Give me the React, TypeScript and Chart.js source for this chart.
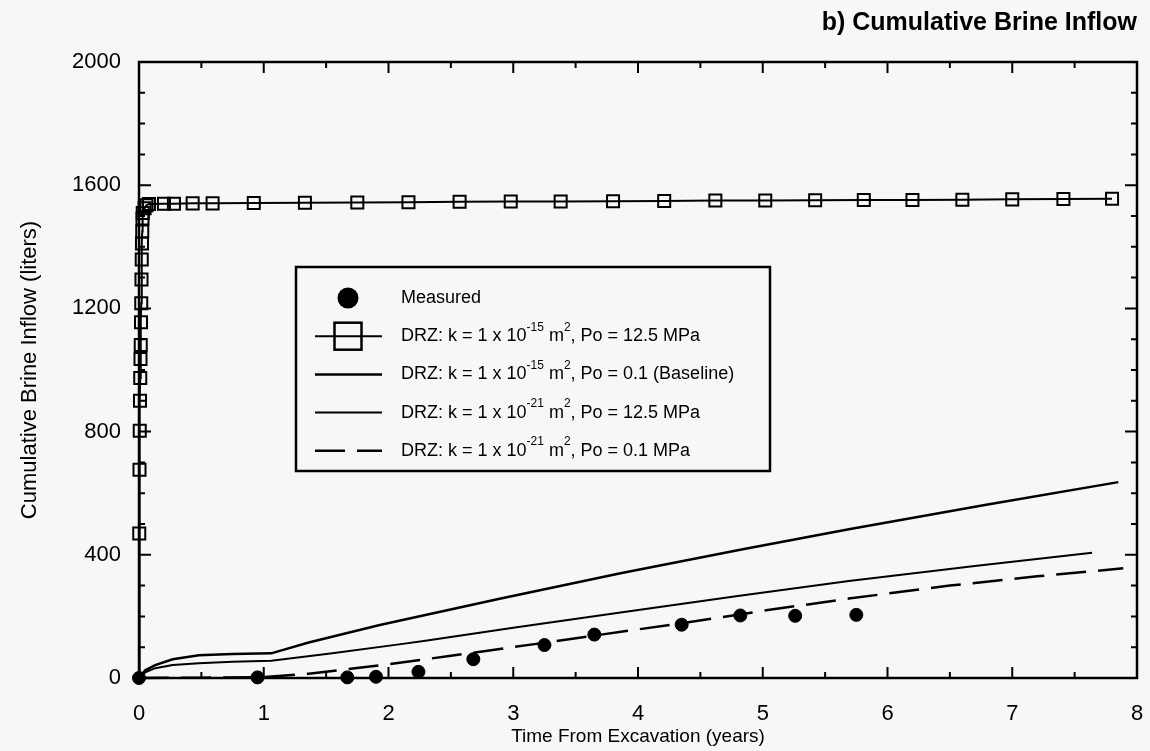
import React, { useEffect, useRef } from "react";
import { Chart, registerables } from "chart.js";

Chart.register(...registerables);

const FONT = "'Liberation Sans', Arial, Helvetica, sans-serif";
const BG = "#f7f7f7";

const chartTitle = "b) Cumulative Brine Inflow";
const xAxisTitle = "Time From Excavation (years)";
const yAxisTitle = "Cumulative Brine Inflow (liters)";

const xTickValues = [0, 1, 2, 3, 4, 5, 6, 7, 8];
const xTickLabels = ["0", "1", "2", "3", "4", "5", "6", "7", "8"];
const yTickValues = [0, 400, 800, 1200, 1600, 2000];
const yTickLabels = ["0", "400", "800", "1200", "1600", "2000"];

const seriesLabels = [
  "Measured",
  "DRZ: k = 1 x 10^{-15} m^{2}, Po = 12.5 MPa",
  "DRZ: k = 1 x 10^{-15} m^{2}, Po = 0.1 (Baseline)",
  "DRZ: k = 1 x 10^{-21} m^{2}, Po = 12.5 MPa",
  "DRZ: k = 1 x 10^{-21} m^{2}, Po = 0.1 MPa",
];

// Measured
const measuredX = [0, 0.95, 1.67, 1.9, 2.24, 2.68, 3.25, 3.65, 4.35, 4.82, 5.26, 5.75];
const measuredY = [0, 2, 2, 4, 20, 61, 107, 141, 173, 203, 202, 205];

// k = 1e-15, Po = 12.5 MPa
const highKHighPX = [
  0, 0.002, 0.004, 0.006, 0.008, 0.01, 0.012, 0.014, 0.016, 0.018, 0.02, 0.022, 0.024,
  0.026, 0.028, 0.03, 0.045, 0.06, 0.08, 0.2, 0.28, 0.43, 0.59, 0.92, 1.33, 1.75, 2.16,
  2.57, 2.98, 3.38, 3.8, 4.21, 4.62, 5.02, 5.42, 5.81, 6.2, 6.6, 7.0, 7.41, 7.8,
];
const highKHighPY = [
  0, 469, 676, 803, 900, 974, 1036, 1081, 1155, 1217, 1294, 1359, 1411, 1450, 1492, 1510,
  1525, 1535, 1539, 1540, 1540, 1541, 1541, 1542, 1543, 1544, 1545, 1546, 1547, 1547,
  1548, 1549, 1550, 1550, 1551, 1552, 1552, 1553, 1554, 1555, 1556,
];

// k = 1e-15, Po = 0.1 (Baseline)
const baselineX = [0, 0.05, 0.13, 0.27, 0.48, 0.75, 1.06, 1.36, 1.93, 2.9, 3.86, 4.84, 5.69, 6.78, 7.85];
const baselineY = [0, 25, 42, 61, 74, 78, 80, 115, 172, 258, 340, 418, 483, 562, 636];

// k = 1e-21, Po = 12.5 MPa
const lowKHighPX = [0, 0.05, 0.13, 0.27, 0.48, 0.75, 1.06, 1.55, 2.1, 2.31, 3.0, 3.86, 4.8, 5.69, 6.7, 7.64];
const lowKHighPY = [0, 18, 32, 42, 48, 53, 56, 80, 110, 122, 163, 213, 266, 315, 364, 407];

// k = 1e-21, Po = 0.1 MPa
const lowKLowPX = [0, 0.5, 1.0, 1.36, 1.95, 2.5, 3.17, 3.69, 4.35, 5.0, 5.69, 6.5, 7.2, 7.89];
const lowKLowPY = [0, 1, 3, 14, 42, 72, 110, 140, 178, 218, 258, 300, 330, 356];

const toPoints = (xs: number[], ys: number[]) => xs.map((x, i) => ({ x, y: ys[i] }));

function parseRich(s: string) {
  const parts: { t: string; sup: boolean }[] = [];
  const re = /\^\{([^}]*)\}/g;
  let last = 0;
  let m: RegExpExecArray | null;
  while ((m = re.exec(s))) {
    if (m.index > last) parts.push({ t: s.slice(last, m.index), sup: false });
    parts.push({ t: m[1], sup: true });
    last = re.lastIndex;
  }
  if (last < s.length) parts.push({ t: s.slice(last), sup: false });
  return parts;
}

const bgPlugin = {
  id: "bgFill",
  beforeDraw(chart: any) {
    const ctx = chart.ctx;
    ctx.save();
    ctx.fillStyle = BG;
    ctx.fillRect(0, 0, chart.width, chart.height);
    ctx.restore();
  },
};

const framePlugin = {
  id: "frameTicks",
  afterDraw(chart: any) {
    const { ctx, chartArea } = chart;
    const { left, right, top, bottom } = chartArea;
    const xs = chart.scales.x;
    const ys = chart.scales.y;
    ctx.save();
    ctx.strokeStyle = "#000";
    ctx.lineWidth = 2.5;
    ctx.strokeRect(left, top, right - left, bottom - top);
    ctx.lineWidth = 2;
    ctx.beginPath();
    for (let v = xs.min; v <= xs.max + 1e-9; v += 0.5) {
      const p = xs.getPixelForValue(v);
      const major = Math.abs(v - Math.round(v)) < 1e-6;
      const len = major ? 11 : 6;
      ctx.moveTo(p, bottom);
      ctx.lineTo(p, bottom - len);
      ctx.moveTo(p, top);
      ctx.lineTo(p, top + len);
    }
    for (let v = ys.min; v <= ys.max + 1e-9; v += 100) {
      const p = ys.getPixelForValue(v);
      const major = v % 400 === 0;
      const len = major ? 12 : 6;
      ctx.moveTo(left, p);
      ctx.lineTo(left + len, p);
      ctx.moveTo(right, p);
      ctx.lineTo(right - len, p);
    }
    ctx.stroke();
    ctx.restore();
  },
};

const legendPlugin = {
  id: "boxLegend",
  afterDraw(chart: any) {
    const ctx = chart.ctx;
    const box = { left: 296, top: 267, right: 770, bottom: 471 };
    const rowY0 = 298;
    const rowGap = 38.2;
    const lineX0 = 315;
    const lineX1 = 382;
    const markX = 348;
    const textX = 401;
    ctx.save();
    ctx.fillStyle = BG;
    ctx.fillRect(box.left, box.top, box.right - box.left, box.bottom - box.top);
    ctx.strokeStyle = "#000";
    ctx.lineWidth = 2.5;
    ctx.strokeRect(box.left, box.top, box.right - box.left, box.bottom - box.top);
    chart.data.datasets.forEach((ds: any, i: number) => {
      const y = rowY0 + i * rowGap;
      ctx.save();
      ctx.strokeStyle = "#000";
      ctx.fillStyle = "#000";
      if (ds.showLine) {
        ctx.lineWidth = ds.borderWidth || 2;
        ctx.setLineDash(ds.borderDash || []);
        ctx.beginPath();
        ctx.moveTo(lineX0, y);
        ctx.lineTo(lineX1, y);
        ctx.stroke();
        ctx.setLineDash([]);
      }
      if (ds.pointStyle === "circle" && !ds.showLine) {
        ctx.beginPath();
        ctx.arc(markX, y, 10.5, 0, Math.PI * 2);
        ctx.fill();
      } else if (ds.pointStyle === "rect") {
        ctx.lineWidth = 2.5;
        ctx.strokeRect(markX - 13.5, y - 13.5, 27, 27);
      }
      const parts = parseRich(ds.label);
      let x = textX;
      ctx.textBaseline = "middle";
      ctx.textAlign = "left";
      for (const p of parts) {
        if (p.sup) {
          ctx.font = `12px ${FONT}`;
          ctx.fillText(p.t, x, y - 9);
        } else {
          ctx.font = `18px ${FONT}`;
          ctx.fillText(p.t, x, y);
        }
        x += ctx.measureText(p.t).width;
      }
      ctx.restore();
    });
    ctx.restore();
  },
};

export default function App() {
  const canvasRef = useRef<HTMLCanvasElement | null>(null);

  useEffect(() => {
    if (!canvasRef.current) return;
    Chart.defaults.font.family = FONT;
    Chart.defaults.color = "#000";
    const chart = new Chart(canvasRef.current, {
      type: "scatter",
      data: {
        datasets: [
          {
            label: seriesLabels[0],
            data: toPoints(measuredX, measuredY),
            showLine: false,
            pointStyle: "circle",
            pointRadius: 6.5,
            backgroundColor: "#000",
            borderColor: "#000",
            clip: false,
          },
          {
            label: seriesLabels[1],
            data: toPoints(highKHighPX, highKHighPY),
            showLine: true,
            borderColor: "#000",
            borderWidth: 2,
            pointStyle: "rect",
            pointRadius: (c: any) => (c.dataIndex === 0 ? 0 : 8.5),
            pointBorderWidth: 2,
            pointBackgroundColor: "rgba(0,0,0,0)",
            pointBorderColor: "#000",
            clip: false,
          },
          {
            label: seriesLabels[2],
            data: toPoints(baselineX, baselineY),
            showLine: true,
            borderColor: "#000",
            borderWidth: 2.5,
            pointRadius: 0,
            pointStyle: "line",
            clip: false,
          },
          {
            label: seriesLabels[3],
            data: toPoints(lowKHighPX, lowKHighPY),
            showLine: true,
            borderColor: "#000",
            borderWidth: 2,
            pointRadius: 0,
            pointStyle: "line",
            clip: false,
          },
          {
            label: seriesLabels[4],
            data: toPoints(lowKLowPX, lowKLowPY),
            showLine: true,
            borderColor: "#000",
            borderWidth: 2.5,
            borderDash: [30, 12],
            pointRadius: 0,
            pointStyle: "line",
            clip: false,
          },
        ] as any,
      },
      options: {
        animation: false,
        responsive: true,
        maintainAspectRatio: false,
        events: [],
        layout: { padding: { left: 0, right: 13, top: 0, bottom: 0 } },
        plugins: {
          legend: { display: false },
          tooltip: { enabled: false },
          title: {
            display: true,
            text: chartTitle,
            align: "end",
            color: "#000",
            font: { size: 25, weight: "bold", family: FONT },
            padding: { top: 8, bottom: 24 },
          },
        },
        scales: {
          x: {
            type: "linear",
            min: xTickValues[0],
            max: xTickValues[xTickValues.length - 1],
            grid: {
              display: true,
              drawOnChartArea: false,
              drawTicks: true,
              tickLength: 23,
              color: "rgba(0,0,0,0)",
            },
            border: { display: false },
            afterFit: (s: any) => {
              s.height = 73;
            },
            afterBuildTicks: (s: any) => {
              s.ticks = xTickValues.map((v) => ({ value: v }));
            },
            ticks: {
              color: "#000",
              font: { size: 22, family: FONT },
              padding: 0,
              maxRotation: 0,
              callback: (v: any) => {
                const i = xTickValues.indexOf(Number(v));
                return i >= 0 ? xTickLabels[i] : "";
              },
            },
            title: {
              display: true,
              text: xAxisTitle,
              color: "#000",
              font: { size: 19, family: FONT },
              padding: { top: 0, bottom: 3 },
            },
          },
          y: {
            type: "linear",
            min: yTickValues[0],
            max: yTickValues[yTickValues.length - 1],
            grid: { display: false },
            border: { display: false },
            afterFit: (s: any) => {
              s.width = 139;
            },
            afterBuildTicks: (s: any) => {
              s.ticks = yTickValues.map((v) => ({ value: v }));
            },
            ticks: {
              color: "#000",
              font: { size: 22, family: FONT },
              padding: 10,
              callback: (v: any) => {
                const i = yTickValues.indexOf(Number(v));
                return i >= 0 ? yTickLabels[i] : "";
              },
            },
            title: {
              display: true,
              text: yAxisTitle,
              color: "#000",
              font: { size: 22, family: FONT },
              padding: { top: 17, bottom: 0 },
            },
          },
        },
      } as any,
      plugins: [bgPlugin, framePlugin, legendPlugin],
    });
    return () => chart.destroy();
  }, []);

  return (
    <div style={{ position: "fixed", left: 0, top: 0, width: 1150, height: 751, background: BG }}>
      <canvas ref={canvasRef} />
    </div>
  );
}
